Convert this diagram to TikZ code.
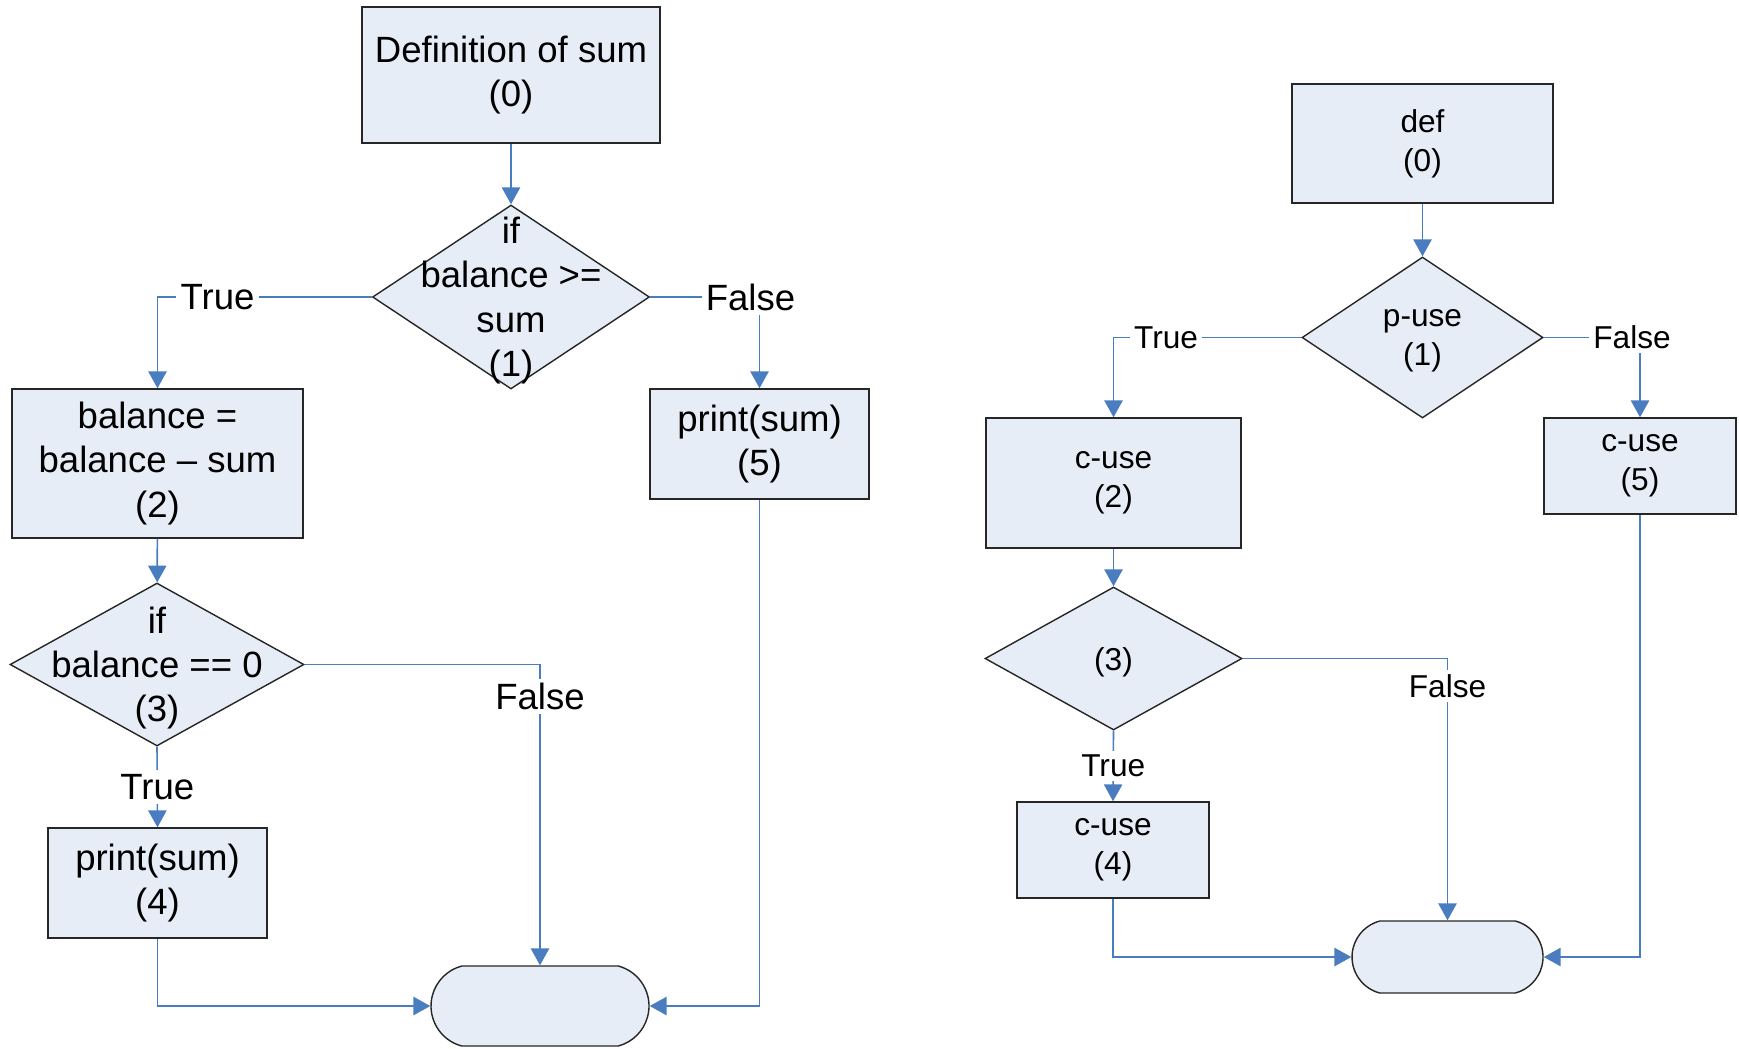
\documentclass[tikz,border=0pt]{standalone}
\usepackage{fontspec}
\setmainfont{Liberation Sans}
\usetikzlibrary{shapes.geometric, shapes.misc, arrows.meta}

\definecolor{boxfill}{RGB}{230,237,247}
\definecolor{flowline}{RGB}{74,124,192}

\tikzset{
	block/.style = {rectangle, draw = black!85, fill = boxfill, inner sep = 0pt, align = center},
	decision/.style = {diamond, draw = black!85, fill = boxfill, inner sep = 0pt},
	terminal/.style = {rounded rectangle, rounded rectangle arc length = 150, draw = black!85, fill = boxfill, inner sep = 0pt},
	flow/.style = {draw = flowline, line width = 0.45pt},
	branch/.style = {fill = white, inner sep = 1.2pt},
	bigtext/.style = {font = \fontsize{10.4}{12.6}\selectfont},
	smalltext/.style = {font = \fontsize{9}{11}\selectfont},
	dtext/.style = {align = center, yshift = -0.35mm}
}

\begin{document}
\begin{tikzpicture}[>={Triangle[length = 4.8pt, width = 5.2pt]}]
\useasboundingbox (0, 0) rectangle (17.39, -10.48);

% left: the program
\node [block, bigtext, minimum width = 2.98cm, minimum height = 1.36cm] (sdef) at (5.11, -0.75) {Definition of sum\\(0)};
\node [decision, minimum width = 2.77cm, minimum height = 1.84cm,
	label = {[bigtext, dtext]center:if\\balance >=\\sum\\(1)}] (sif1) at (5.11, -2.97) {};
\node [block, bigtext, minimum width = 2.91cm, minimum height = 1.49cm] (sbal) at (1.575, -4.635) {balance =\\balance – sum\\(2)};
\node [block, bigtext, minimum width = 2.19cm, minimum height = 1.10cm] (spr5) at (7.595, -4.44) {print(sum)\\(5)};
\node [decision, minimum width = 2.94cm, minimum height = 1.63cm,
	label = {[bigtext, dtext]center:if\\balance == 0\\(3)}] (sif3) at (1.57, -6.645) {};
\node [block, bigtext, minimum width = 2.19cm, minimum height = 1.10cm] (spr4) at (1.575, -8.83) {print(sum)\\(4)};
\node [terminal, minimum width = 2.18cm, minimum height = 0.80cm] (send) at (5.40, -10.06) {};

\draw [flow, ->] (sdef) -- (sif1);
\draw [flow, ->] (sif1.west) -| node [branch, bigtext, pos = 0.36] {True} (sbal.north);
\draw [flow, ->] (sif1.east) -| node [branch, bigtext, pos = 0.5, xshift = -0.9mm] {False} (spr5.north);
\draw [flow, ->] (sbal) -- (sif3);
\draw [flow, ->] (sif3.east) -| node [branch, bigtext, pos = 0.553] {False} (send.north);
\draw [flow, ->] (sif3.south) -- node [branch, bigtext] {True} (spr4.north);
\draw [flow, ->] (spr4.south) |- (send.west);
\draw [flow, ->] (spr5.south) |- (send.east);

% right: def and use
\node [block, smalltext, minimum width = 2.61cm, minimum height = 1.19cm] (udef) at (14.225, -1.435) {def\\(0)};
\node [decision, minimum width = 2.41cm, minimum height = 1.61cm,
	label = {[smalltext, dtext]center:p-use\\(1)}] (up1) at (14.225, -3.375) {};
\node [block, smalltext, minimum width = 2.55cm, minimum height = 1.30cm] (uc2) at (11.135, -4.83) {c-use\\(2)};
\node [block, smalltext, minimum width = 1.92cm, minimum height = 0.96cm] (uc5) at (16.40, -4.66) {c-use\\(5)};
\node [decision, minimum width = 2.57cm, minimum height = 1.43cm,
	label = {[smalltext, dtext]center:(3)}] (up3) at (11.135, -6.585) {};
\node [block, smalltext, minimum width = 1.92cm, minimum height = 0.96cm] (uc4) at (11.13, -8.50) {c-use\\(4)};
\node [terminal, minimum width = 1.91cm, minimum height = 0.72cm] (uend) at (14.475, -9.57) {};

\draw [flow, ->] (udef) -- (up1);
\draw [flow, ->] (up1.west) -| node [branch, smalltext, pos = 0.36] {True} (uc2.north);
\draw [flow, ->] (up1.east) -| node [branch, smalltext, pos = 0.5, xshift = -0.8mm] {False} (uc5.north);
\draw [flow, ->] (uc2) -- (up3);
\draw [flow, ->] (up3.east) -| node [branch, smalltext, pos = 0.553] {False} (uend.north);
\draw [flow, ->] (up3.south) -- node [branch, smalltext] {True} (uc4.north);
\draw [flow, ->] (uc4.south) |- (uend.west);
\draw [flow, ->] (uc5.south) |- (uend.east);

\end{tikzpicture}
\end{document}
